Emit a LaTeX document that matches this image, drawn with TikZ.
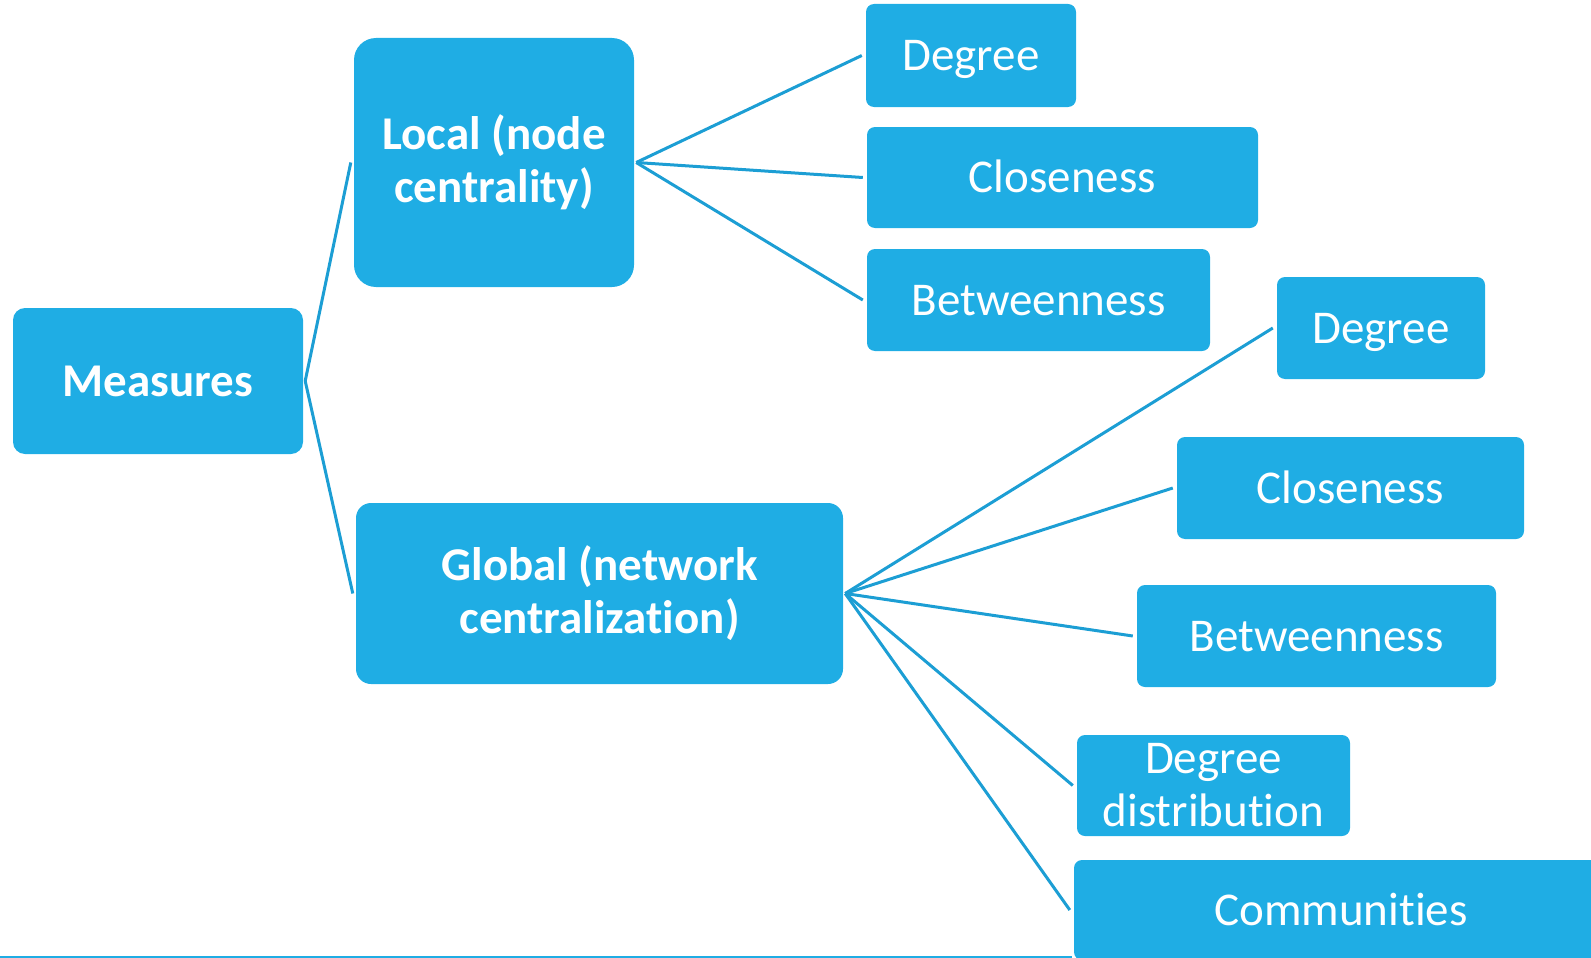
\documentclass[tikz,border=0pt]{standalone}
\usepackage{fontspec}
\setmainfont{Carlito}[Ligatures={NoCommon,NoRare,NoContextual},Contextuals=NoAlternate]
\definecolor{boxblue}{RGB}{31,173,228}
\definecolor{lineblue}{RGB}{28,158,212}
% keeps "t" and "i" as separate glyphs
\newcommand{\tisplit}{\kern0pt\relax}

\begin{document}
\begin{tikzpicture}[x=1pt,y=-1pt,
  box/.style={fill=boxblue, text=white, inner sep=0pt, align=center,
              font=\fontsize{47}{53}\selectfont},
  topbox/.style={box, font=\fontsize{47}{53}\selectfont\bfseries},
  leaf/.style={box, rounded corners=8pt, text depth=0pt, text height=30pt},
  link/.style={draw=lineblue, line width=3pt}]

\useasboundingbox (0,0) rectangle (1591,958);
\clip (0,0) rectangle (1591,958);

% top level
\node[topbox, minimum width=290pt, minimum height=146pt, rounded corners=12pt]
  (meas) at (158,381) {Measures};
\node[topbox, minimum width=280pt, minimum height=249pt, rounded corners=22pt]
  (local) at (494,162.5) {Local (node\\centrality)};
\node[topbox, minimum width=487pt, minimum height=181pt, rounded corners=15pt]
  (glob) at (599.5,593.5) {Global (network\\centralizat\tisplit ion)};

% local measures
\node[leaf, minimum width=210pt, minimum height=103pt] (ldeg) at (971,55.5) {Degree};
\node[leaf, minimum width=391pt, minimum height=101pt] (lclo) at (1062.5,177.5) {Closeness};
\node[leaf, minimum width=343pt, minimum height=102pt] (lbet) at (1038.5,300) {Betweenness};

% global measures
\node[leaf, minimum width=208pt, minimum height=102pt] (gdeg) at (1381,328) {Degree};
\node[leaf, minimum width=347pt, minimum height=102pt] (gclo) at (1350.5,488) {Closeness};
\node[leaf, minimum width=359pt, minimum height=102pt] (gbet) at (1316.5,636) {Betweenness};
\node[box, rounded corners=8pt, minimum width=273pt, minimum height=101pt]
  (gdist) at (1213.5,785.5) {Degree\\distribut\tisplit ion};
\node[leaf, minimum width=534pt, minimum height=100pt] (gcom) at (1341,910) {Communit\tisplit ies};

% connectors
\draw[link] ([xshift=2pt]meas.east) -- ([xshift=-3pt]local.west);
\draw[link] ([xshift=2pt]meas.east) -- ([xshift=-3pt]glob.west);

\draw[link] ([xshift=2pt]local.east) -- ([xshift=-4pt]ldeg.west);
\draw[link] ([xshift=2pt]local.east) -- ([xshift=-4pt]lclo.west);
\draw[link] ([xshift=2pt]local.east) -- ([xshift=-4pt]lbet.west);

\draw[link] ([xshift=2pt]glob.east) -- ([xshift=-4pt]gdeg.west);
\draw[link] ([xshift=2pt]glob.east) -- ([xshift=-4pt]gclo.west);
\draw[link] ([xshift=2pt]glob.east) -- ([xshift=-4pt]gbet.west);
\draw[link] ([xshift=2pt]glob.east) -- ([xshift=-4pt]gdist.west);
\draw[link] ([xshift=2pt]glob.east) -- ([xshift=-4pt]gcom.west);

% rule along the lower edge
\fill[boxblue] (0,955.5) rectangle (1072,958);
\end{tikzpicture}
\end{document}
